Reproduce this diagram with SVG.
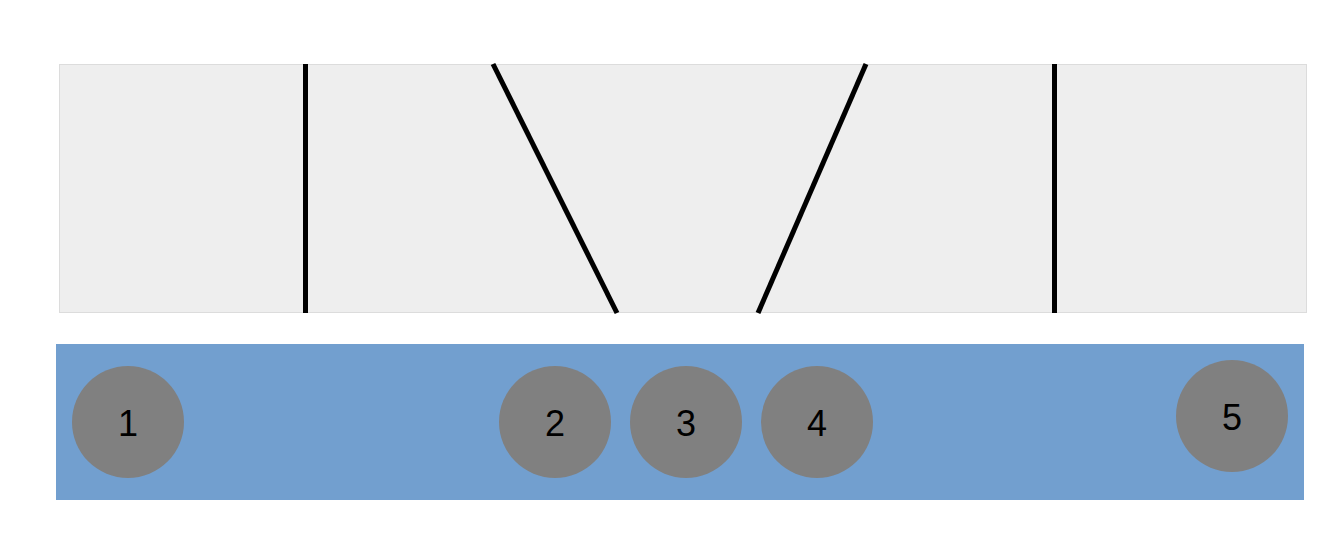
<svg xmlns="http://www.w3.org/2000/svg" width="1333" height="539" viewBox="0 0 1333 539">
<style>
.node circle{fill:#808080}
.node text{font-family:"Liberation Sans",Arial,sans-serif;font-size:36px;fill:#000;text-anchor:middle;dominant-baseline:central}
.conn line{stroke:#000;stroke-width:5}
</style>
<rect width="1333" height="539" fill="#fff"/>
<g id="top-panel"><rect x="59.5" y="64.5" width="1247" height="248" fill="#eeeeee" stroke="#dcdcdc" stroke-width="1"/></g>
<g id="bottom-panel"><rect x="56" y="344" width="1248" height="156" fill="#729fcf"/></g>
<g id="connectors" class="conn">
<line x1="305.5" y1="64" x2="305.5" y2="313"/>
<line x1="493" y1="64" x2="617" y2="313"/>
<line x1="866" y1="64" x2="758" y2="313"/>
<line x1="1054.5" y1="64" x2="1054.5" y2="313"/>
</g>
<g id="node1" class="node"><circle cx="128" cy="422" r="56"/><text x="128" y="423">1</text></g>
<g id="node2" class="node"><circle cx="555" cy="422" r="56"/><text x="555" y="423">2</text></g>
<g id="node3" class="node"><circle cx="686" cy="422" r="56"/><text x="686" y="423">3</text></g>
<g id="node4" class="node"><circle cx="817" cy="422" r="56"/><text x="817" y="423">4</text></g>
<g id="node5" class="node"><circle cx="1232" cy="416" r="56"/><text x="1232" y="417">5</text></g>
</svg>
